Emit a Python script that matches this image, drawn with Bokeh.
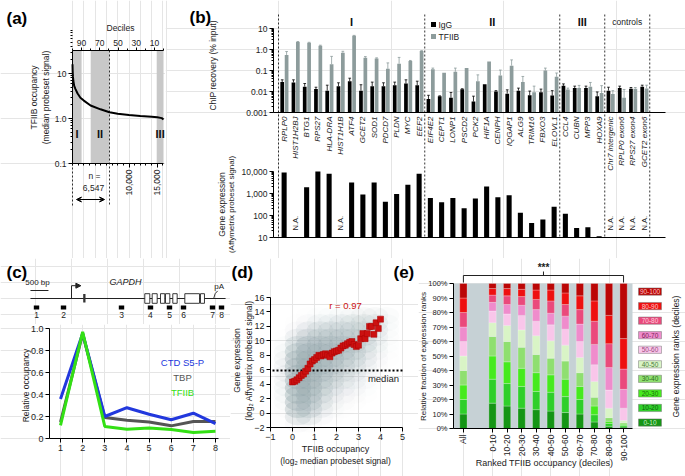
import math
from bokeh.plotting import figure
from bokeh.layouts import row, column
from bokeh.models import (Range1d, LogScale, LogAxis, LinearAxis, FixedTicker,
                          Label, Arrow, VeeHead, NormalHead, NumeralTickFormatter)
from bokeh.core.properties import value
from bokeh.embed import file_html
from bokeh.resources import INLINE

FONT = "Liberation Sans"

# ======================= DATA =======================
# (a) TFIIB occupancy of all genes, ranked
a_rank = [0, 30, 80, 150, 300, 530, 900, 1400, 2000, 3200, 4950, 6547, 8000,
          10000, 12000, 14000, 15000, 15800, 16100]
a_occupancy = [16, 11, 8.5, 6.8, 5.3, 4.5, 3.6, 2.9, 2.5, 1.95, 1.6, 1.38, 1.28,
               1.2, 1.14, 1.1, 1.07, 1.02, 0.95]
a_n_genes = 16100
a_band_left = [0, 3220, 14900]
a_band_right = [1610, 6547, 16100]
a_band_names = ["I", "II", "III"]
a_decile_ticks = [1610, 4830, 8050, 11270, 14490]
a_decile_labels = ["90", "70", "50", "30", "10"]
a_rank_ticks = [10000, 15000]
a_rank_labels = ["10,000", "15,000"]
a_cutoff = 6547

# (b) ChIP recovery and expression per gene
b_genes = ["RPLP0", "HIST1H2BJ", "BTG1", "RPS27", "HLA-DRA", "HIST1H1B", "ATF4",
           "GCET2", "SOD1", "PDCD7", "PLDN", "MYC", "EEF2",
           "EIF4E2", "CEPT1", "LONP1", "PSCD2", "PCK2", "HIF1A", "CENPH", "IQGAP1",
           "ALG9", "TRIM16", "FBXO3", "ELOVL1",
           "CCL4", "CUBN", "MPP3", "HOXA9",
           "Chr7 intergenic", "RPLP0 exon6", "RPS27 exon4", "GCET2 exon6"]
b_group_names = ["I", "II", "III", "controls"]
b_group_sizes = [13, 12, 4, 4]
b_igg = [0.028, 0.027, 0.017, 0.013, 0.011, 0.018, 0.031, 0.011, 0.018, 0.018, 0.020, 0.024, 0.020,
         0.0044, 0.0060, 0.0050, 0.0127, 0.0033, 0.022, 0.0100, 0.0079, 0.0110, 0.0066, 0.0093, 0.0064,
         0.0186, 0.0145, 0.0145, 0.0060,
         0.011, 0.0145, 0.0136, 0.017]
b_igg_err = [0.036, 0.036, 0.024, 0.016, 0.020, 0.026, 0.043, 0.021, 0.028, 0.026, 0.028, 0.036, 0.031,
             0.0066, 0.0062, 0.0090, 0.0135, 0.0060, 0.022, 0.0110, 0.0120, 0.0145, 0.0105, 0.0130, 0.0110,
             0.023, 0.018, 0.018, 0.0095,
             0.016, 0.018, 0.0155, 0.020]
b_tfiib = [0.55, 2.3, 2.1, 1.5, 0.20, 0.70, 4.5, 0.40, 0.37, 0.12, 0.21, 0.28, 0.85,
           0.115, 0.079, 0.087, 0.13, 0.031, 0.27, 0.058, 0.17, 0.028, 0.0091, 0.10, 0.050,
           0.0123, 0.0145, 0.017, 0.0085,
           0.0076, 0.0050, 0.0136, 0.014]
b_tfiib_err = [0.80, 2.4, 2.2, 1.6, 0.47, 0.82, 4.7, 0.46, 0.40, 0.23, 0.42, 0.30, 0.88,
               0.13, 0.08, 0.13, 0.13, 0.062, 0.27, 0.105, 0.32, 0.052, 0.018, 0.13, 0.076,
               0.0145, 0.0195, 0.027, 0.019,
               0.011, 0.0125, 0.0155, 0.020]
b_expression = [9000, None, 1900, 10000, 8000, None, 3200, 900, 3200, 420, 950, 2500, 8000,
                630, 400, 630, 215, 590, 2100, 670, 830, 133, 46, 65, 250,
                120, 27, 29, 11.5,
                None, None, None, None]

# (c) GAPDH locus and relative occupancy
c_gene_span = [-1140, 4280]
c_exon1 = [325, 389]
c_exon_start = [2036, 2241, 2472, 2611, 2814, 3148, 3583]
c_exon_end = [2175, 2380, 2592, 2731, 2935, 3556, 3694]
c_polya = 3950
c_scale_bar = [-1140, -640]
c_primer_names = ["1", "2", "3", "4", "5", "6", "7", "8"]
c_primer_bp = [-972, -222, 1389, 2194, 2722, 3111, 3917, 4167]
c_amplicon = [1, 2, 3, 4, 5, 6, 7, 8]
c_ctd_s5p = [0.36, 0.955, 0.20, 0.28, 0.22, 0.17, 0.23, 0.135]
c_tbp = [0.15, 0.95, 0.19, 0.165, 0.15, 0.115, 0.155, 0.155]
c_tfiib = [0.12, 0.97, 0.11, 0.085, 0.095, 0.082, 0.055, 0.065]

# (d) expression vs occupancy
d_bin_occupancy = [0.0, 0.1, 0.2, 0.3, 0.4, 0.5, 0.6, 0.7, 0.8, 0.9, 1.0, 1.1, 1.2, 1.3,
                   1.4, 1.5, 1.6, 1.7, 1.8, 1.9, 2.0, 2.1, 2.2, 2.3, 2.4, 2.5, 2.6, 2.7,
                   2.8, 2.9, 3.0, 3.1, 3.2, 3.3, 3.4, 3.5, 3.6, 3.7, 3.8, 3.9, 4.0]
d_bin_expression = [4.3, 4.4, 4.6, 4.9, 5.2, 5.4, 5.8, 6.2, 6.8, 7.2, 7.4, 7.7, 8.0, 7.9,
                    8.1, 8.2, 8.0, 7.8, 8.3, 8.5, 8.6, 8.7, 9.0, 9.3, 9.4, 9.6, 9.8, 9.9,
                    9.5, 9.2, 9.4, 10.3, 11.0, 10.3, 11.0, 12.0, 12.0, 10.9, 12.5, 11.7, 13.0]
d_median = 5.9
d_r_text = "r = 0.97"
d_cloud_x_edges = [-0.5, 0.0, 0.5, 1.0, 1.5, 2.0, 2.5, 3.0, 3.5, 4.0, 4.5]
d_cloud_y_edges = [-2, -1, 0, 1, 2, 3, 4, 5, 6, 7, 8, 9, 10, 11, 12, 13, 14]
d_cloud_density = [  # rows from y=-2 upward
    [0.00, 0.10, 0.05, 0.00, 0.00, 0.00, 0.00, 0.00, 0.00, 0.00],
    [0.02, 0.45, 0.30, 0.10, 0.02, 0.00, 0.00, 0.00, 0.00, 0.00],
    [0.05, 0.75, 0.50, 0.22, 0.06, 0.02, 0.00, 0.00, 0.00, 0.00],
    [0.08, 0.85, 0.62, 0.32, 0.12, 0.05, 0.02, 0.00, 0.00, 0.00],
    [0.12, 0.90, 0.72, 0.42, 0.20, 0.10, 0.05, 0.02, 0.00, 0.00],
    [0.15, 0.95, 0.80, 0.52, 0.30, 0.16, 0.10, 0.04, 0.00, 0.00],
    [0.18, 0.95, 0.85, 0.60, 0.40, 0.26, 0.15, 0.07, 0.02, 0.00],
    [0.20, 0.95, 0.90, 0.70, 0.50, 0.36, 0.22, 0.10, 0.03, 0.00],
    [0.20, 0.90, 0.90, 0.76, 0.60, 0.45, 0.30, 0.15, 0.05, 0.00],
    [0.18, 0.85, 0.90, 0.80, 0.70, 0.55, 0.40, 0.22, 0.07, 0.02],
    [0.12, 0.72, 0.85, 0.80, 0.75, 0.65, 0.50, 0.30, 0.12, 0.03],
    [0.06, 0.50, 0.70, 0.70, 0.70, 0.65, 0.55, 0.40, 0.15, 0.04],
    [0.03, 0.28, 0.45, 0.50, 0.55, 0.55, 0.50, 0.40, 0.20, 0.05],
    [0.01, 0.10, 0.25, 0.35, 0.40, 0.40, 0.40, 0.35, 0.25, 0.06],
    [0.00, 0.03, 0.10, 0.15, 0.20, 0.25, 0.30, 0.30, 0.25, 0.08],
    [0.00, 0.00, 0.02, 0.04, 0.06, 0.08, 0.12, 0.18, 0.18, 0.08],
]

# (e) expression-rank composition per occupancy decile (cumulative %)
e_columns = ["All", "0-10", "10-20", "20-30", "30-40", "40-50", "50-60", "60-70",
             "70-80", "80-90", "90-100"]
e_slots = [0, 2, 3, 4, 5, 6, 7, 8, 9, 10, 11]
e_rank_names = ["0-10", "10-20", "20-30", "30-40", "40-50", "50-60", "60-70",
                "70-80", "80-90", "90-100"]
cum_all = [10, 20, 30, 40, 50, 60, 70, 80, 90, 100]
cum_00_10 = [17.5, 34, 50, 63.5, 73, 81, 87, 92, 96.5, 100]
cum_10_20 = [15.5, 31, 46, 60, 71, 79, 85.5, 91.5, 96.5, 100]
cum_20_30 = [14, 29, 41.5, 56, 68, 78, 85, 91, 96, 100]
cum_30_40 = [13, 25.5, 38.5, 51, 64, 74, 82, 89, 95.5, 100]
cum_40_50 = [12, 25, 37, 48.5, 60.5, 71.5, 79.5, 88, 95.5, 100]
cum_50_60 = [11, 22, 34, 46.5, 57.5, 68.5, 77.5, 85.5, 93.5, 100]
cum_60_70 = [10, 20, 29, 38.5, 49, 60, 72, 82, 91.5, 100]
cum_70_80 = [4.5, 9.5, 15.5, 21.5, 32.5, 44, 58, 74, 88, 100]
cum_80_90 = [1.5, 3.5, 5, 7.5, 14, 26.5, 42, 58.5, 78, 100]
cum_90_100 = [1, 2, 3, 4, 5.5, 14, 27, 41, 62, 100]
e_cumulative = [cum_all, cum_00_10, cum_10_20, cum_20_30, cum_30_40, cum_40_50,
                cum_50_60, cum_60_70, cum_70_80, cum_80_90, cum_90_100]
e_colors = ["#159515", "#2fcf2a", "#46ea1e", "#8fdf70", "#d9f4c6",
            "#f9c6ea", "#ef8ccc", "#ea4a7c", "#ee1010", "#bb0606"]
e_label_colors = ["#c8f0c8", "#0d5e0d", "#1b6b10", "#2d6e22", "#4d7a40",
                  "#9a4a80", "#7a1f58", "#ffd0dc", "#ffc8c8", "#ffc0c0"]


# ======================= HELPERS =======================
def span(pa, va, pb, vb, p0, p1, log=False):
    """values at page pixels p0, p1 given two page-pixel anchors (pa->va, pb->vb)"""
    fa, fb = (math.log10(va), math.log10(vb)) if log else (va, vb)
    f = lambda p: fa + (p - pa) * (fb - fa) / (pb - pa)
    r = (f(p0), f(p1))
    return (10 ** r[0], 10 ** r[1]) if log else r


class Geo:
    """maps page pixels (origin top-left of the page) into a figure's data units"""
    def __init__(self, ox, oy, w, h, xr, yr, xlog=False, ylog=False):
        self.ox, self.oy, self.w, self.h = ox, oy, w, h
        self.xr, self.yr, self.xlog, self.ylog = xr, yr, xlog, ylog

    @staticmethod
    def _interp(t, r, log):
        if log:
            a, b = math.log10(r[0]), math.log10(r[1])
            return 10 ** (a + t * (b - a))
        return r[0] + t * (r[1] - r[0])

    def x(self, px):
        return self._interp((px - self.ox) / self.w, self.xr, self.xlog)

    def y(self, py):
        return self._interp((self.oy + self.h - py) / self.h, self.yr, self.ylog)


def base_fig(w, h, xr, yr, ylog=False, **kw):
    p = figure(width=w, height=h, output_backend="svg", toolbar_location=None,
               min_border=0, x_range=Range1d(*xr), y_range=Range1d(*yr),
               x_axis_location=None, y_axis_location=None,
               y_axis_type="log" if ylog else "linear", **kw)
    p.outline_line_color = None
    p.background_fill_color = "white"
    p.border_fill_color = "white"
    return p


def style_axis(ax, size="8.5px"):
    ax.axis_line_color = "black"
    ax.axis_line_width = 1
    ax.major_tick_line_color = "black"
    ax.minor_tick_line_color = "black"
    ax.major_tick_in = 0
    ax.major_tick_out = 4
    ax.minor_tick_in = 0
    ax.minor_tick_out = 2
    ax.major_label_text_font = FONT
    ax.major_label_text_font_size = size
    ax.major_label_text_color = "#222222"
    ax.major_label_standoff = 2
    ax.axis_label = None
    return ax


def lab(p, x, y, text, size="8.5px", color="#222222", angle=0.0, align="center",
        baseline="middle", style="normal", y_range_name="default"):
    p.add_layout(Label(x=x, y=y, text=text, text_font=FONT, text_font_size=size,
                       text_color=color, angle=angle, text_align=align,
                       text_baseline=baseline, text_font_style=style,
                       y_range_name=y_range_name))


PANEL = "17px"
V = math.pi / 2
ROW1 = 258            # height of the upper row
C1_H = 66             # height of the GAPDH diagram

# ======================= (a) =======================
A_OX, A_OY, A_W, A_H = 0, 0, 165, ROW1
a_xr = span(72, 0, 163, a_n_genes, A_OX, A_OX + A_W)
a_yr = span(163, 0.1, 73, 10, A_OY + A_H, A_OY, log=True)
ga = Geo(A_OX, A_OY, A_W, A_H, a_xr, a_yr, ylog=True)
a_top = ga.y(50)
pa = base_fig(A_W, A_H, a_xr, a_yr, ylog=True)
pa.quad(left=a_band_left, right=a_band_right, bottom=0.1, top=a_top,
        fill_color="#c8c8c8", line_color=None)
pa.line(a_rank, a_occupancy, line_color="black", line_width=2)
pa.segment(x0=[a_cutoff, 0], y0=[a_top, 0.1], x1=[a_cutoff, 0], y1=[ga.y(205)] * 2,
           line_dash="2 2", line_width=0.8, line_color="black")
pa.add_layout(Arrow(start=VeeHead(size=5, line_width=1), end=VeeHead(size=5, line_width=1),
                    x_start=ga.x(76), y_start=ga.y(199), x_end=ga.x(104), y_end=ga.y(199),
                    line_width=1, line_color="black"))
ax = style_axis(LinearAxis(fixed_location=0.1, bounds=(0, a_n_genes)))
ax.ticker = FixedTicker(ticks=a_rank_ticks, minor_ticks=list(range(0, a_n_genes, 1000)))
ax.major_label_overrides = dict(zip(a_rank_ticks, a_rank_labels))
ax.major_label_orientation = V
pa.add_layout(ax, "below")
ay = style_axis(LogAxis(fixed_location=0, bounds=(0.1, a_top)))
ay.ticker = FixedTicker(ticks=[0.1, 1, 10],
                        minor_ticks=[k * 10 ** e for e in (-1, 0, 1) for k in range(2, 10)])
ay.major_label_overrides = {0.1: "0.1", 1: "1.0", 10: "10"}
pa.add_layout(ay, "left")
at = style_axis(LinearAxis(fixed_location=a_top, bounds=(0, a_n_genes)))
at.ticker = FixedTicker(ticks=a_decile_ticks,
                        minor_ticks=[i * a_n_genes / 10 for i in range(11)])
at.major_label_overrides = dict(zip(a_decile_ticks, a_decile_labels))
at.major_tick_out = 3
pa.add_layout(at, "above")
for name, l, r in zip(a_band_names, a_band_left, a_band_right):
    lab(pa, (l + r) / 2, ga.y(133), name, size="11px", style="bold", color="#111111")
lab(pa, ga.x(120), ga.y(27), "Deciles", size="8.5px")
lab(pa, ga.x(33), ga.y(97), "TFIIB occupancy", angle=V)
lab(pa, ga.x(45), ga.y(97), "(median probeset signal)", angle=V)
lab(pa, ga.x(94), ga.y(175), "n =")
lab(pa, ga.x(93), ga.y(187), "6,547")
lab(pa, ga.x(6), ga.y(18), "(a)", size=PANEL, style="bold", align="left", color="black")

# ======================= (b) =======================
B_OX, B_OY, B_W, B_H = 165, 0, 520, ROW1
b_xr = span(278, 0, 278 + 11.25, 1, B_OX, B_OX + B_W)
b_yr = span(28, 10, 112, 0.001, B_OY + B_H, B_OY, log=True)
b_er = span(237, 10, 171, 10000, B_OY + B_H, B_OY, log=True)
gb = Geo(B_OX, B_OY, B_W, B_H, b_xr, b_yr, ylog=True)
gbe = Geo(B_OX, B_OY, B_W, B_H, b_xr, b_er, ylog=True)
b_left, b_right = gb.x(273), gb.x(665)
pb = base_fig(B_W, B_H, b_xr, b_yr, ylog=True,
              extra_y_ranges={"expr": Range1d(*b_er)},
              extra_y_scales={"expr": LogScale()})
n = len(b_genes)
centers = [i + 0.5 for i in range(n)]
x_igg = [i + 0.33 for i in range(n)]
x_tf = [i + 0.72 for i in range(n)]
GRAY = "#8d9c9c"
base = 0.001
pb.vbar(x=x_igg, top=b_igg, bottom=base, width=0.33, fill_color="black", line_color=None)
pb.vbar(x=x_tf, top=b_tfiib, bottom=base, width=0.33, fill_color=GRAY, line_color=None)
for xs, vals, errs, col in ((x_igg, b_igg, b_igg_err, "black"), (x_tf, b_tfiib, b_tfiib_err, GRAY)):
    ex, ey0, ey1 = [], [], []
    for xv, v, e in zip(xs, vals, errs):
        if e > v * 1.03:
            ex.append(xv); ey0.append(v); ey1.append(e)
    pb.segment(x0=ex, y0=ey0, x1=ex, y1=ey1, line_color=col, line_width=0.8)
    pb.segment(x0=[v - 0.12 for v in ex], y0=ey1, x1=[v + 0.12 for v in ex], y1=ey1,
               line_color=col, line_width=0.8)
pb.segment(x0=b_left, y0=base, x1=b_right, y1=base, line_color="black", line_width=1)
pb.segment(x0=b_left, y0=10, x1=b_right, y1=10, line_color="black", line_width=1,
           y_range_name="expr")
ex_x = [c for c, v in zip(centers, b_expression) if v is not None]
ex_v = [v for v in b_expression if v is not None]
pb.vbar(x=ex_x, top=ex_v, bottom=10, width=0.45, fill_color="black",
        line_color=None, y_range_name="expr")
na_x = [c for c, v in zip(centers, b_expression) if v is None]
pb.text(x=na_x, y=[gbe.y(230)] * len(na_x), text=["N.A."] * len(na_x), angle=V,
        text_font=value(FONT), text_font_size="7.5px", text_align="left",
        text_baseline="middle", text_color="#222222", y_range_name="expr")
pb.text(x=centers, y=[gb.y(116)] * n, text=b_genes, angle=V,
        text_font=value(FONT), text_font_size="8px", text_font_style="italic",
        text_align="right", text_baseline="middle", text_color="#222222")
bounds = [0]
for s in b_group_sizes:
    bounds.append(bounds[-1] + s)
pb.segment(x0=bounds, y0=gb.y(14), x1=bounds, y1=gb.y(237), line_dash="2 2",
           line_color="black", line_width=0.8)
for gname, lo, hi in zip(b_group_names, bounds[:-1], bounds[1:]):
    if gname == "controls":
        lab(pb, (lo + hi) / 2, gb.y(21), gname, size="8.5px")
    else:
        lab(pb, (lo + hi) / 2, gb.y(21), gname, size="11px", style="bold", color="#111111")
pb.scatter(x=[gb.x(433), gb.x(433)], y=[gb.y(24), gb.y(36)], marker="square", size=5,
           fill_color=["black", GRAY], line_color=None)
lab(pb, gb.x(438), gb.y(24), "IgG", size="8.5px", align="left")
lab(pb, gb.x(438), gb.y(36), "TFIIB", size="8.5px", align="left")
by = style_axis(LogAxis(fixed_location=b_left, bounds=(0.001, 10)))
by.ticker = FixedTicker(ticks=[0.001, 0.01, 0.1, 1, 10],
                        minor_ticks=[k * 10 ** e for e in range(-3, 1) for k in range(2, 10)])
by.major_label_overrides = {0.001: "0.001", 0.01: "0.01", 0.1: "0.1", 1: "1.0", 10: "10"}
pb.add_layout(by, "left")
by2 = style_axis(LogAxis(y_range_name="expr", fixed_location=b_left, bounds=(10, 10000)))
by2.ticker = FixedTicker(ticks=[10, 100, 1000, 10000],
                         minor_ticks=[k * 10 ** e for e in range(1, 4) for k in range(2, 10)])
by2.major_label_overrides = {10: "10", 100: "100", 1000: "1,000", 10000: "10,000"}
pb.add_layout(by2, "left")
lab(pb, gb.x(212), gb.y(65), "ChIP recovery (% input)", angle=V)
lab(pb, gbe.x(221), gbe.y(204), "Gene expression", angle=V, y_range_name="expr")
lab(pb, gbe.x(231), gbe.y(204), "(Affymetrix probeset signal)", angle=V, size="8px",
    y_range_name="expr")
lab(pb, gb.x(189), gb.y(17), "(b)", size=PANEL, style="bold", align="left", color="black")

# ======================= (c) diagram =======================
C1_OX, C1_OY, C1_W = 0, ROW1, 230
c1_xr = span(71, 0, 71 + 36, 1000, C1_OX, C1_OX + C1_W)
c1_yr = span(298, 0, 290, 1, C1_OY + C1_H, C1_OY)
gc1 = Geo(C1_OX, C1_OY, C1_W, C1_H, c1_xr, c1_yr)
pc1 = base_fig(C1_W, C1_H, c1_xr, c1_yr)
pc1.segment(x0=c_gene_span[0], y0=0, x1=c_gene_span[1], y1=0, line_color="#222222", line_width=1)
pc1.quad(left=c_exon_start, right=c_exon_end, bottom=-0.6, top=0.6, fill_color="white",
         line_color="#222222", line_width=0.9)
pc1.quad(left=[c_exon1[0]], right=[c_exon1[1]], bottom=-0.5, top=0.55, fill_color="#333333",
         line_color=None)
pc1.segment(x0=0, y0=0, x1=0, y1=1.6, line_color="#222222", line_width=1)
pc1.add_layout(Arrow(end=NormalHead(size=5, fill_color="#222222", line_color="#222222"),
                     x_start=0, y_start=1.6, x_end=260, y_end=1.6, line_width=1,
                     line_color="#222222"))
pc1.line(x=[c_polya, c_polya + 40, c_polya + 110], y=[0, 0.6, 0.95], line_color="#222222",
         line_width=0.9)
lab(pc1, c_polya + 150, 1.55, "pA", size="8px")
pc1.segment(x0=c_scale_bar[0], y0=1.0, x1=c_scale_bar[1], y1=1.0, line_color="#222222",
            line_width=1)
lab(pc1, gc1.x(37), gc1.y(282), "500 bp", size="8px")
lab(pc1, gc1.x(125), gc1.y(281), "GAPDH", size="9px", style="italic")
pc1.rect(x=c_primer_bp, y=-1.12, width=150, height=0.5, fill_color="black", line_color=None)
pc1.text(x=c_primer_bp, y=[gc1.y(314)] * len(c_primer_bp), text=c_primer_names,
         text_font=value(FONT), text_font_size="8.5px", text_align="center",
         text_baseline="middle", text_color="#222222")
lab(pc1, gc1.x(6), gc1.y(272), "(c)", size=PANEL, style="bold", align="left", color="black")

# ======================= (c) line chart =======================
C2_OX, C2_OY, C2_W, C2_H = 0, ROW1 + C1_H, 230, 476 - ROW1 - C1_H
c2_xr = span(60, 1, 215, 8, C2_OX, C2_OX + C2_W)
c2_yr = span(438, 0, 328, 1, C2_OY + C2_H, C2_OY)
gc2 = Geo(C2_OX, C2_OY, C2_W, C2_H, c2_xr, c2_yr)
pc2 = base_fig(C2_W, C2_H, c2_xr, c2_yr)
pc2.line(c_amplicon, c_tbp, line_color="#555555", line_width=3)
pc2.line(c_amplicon, c_ctd_s5p, line_color="#2238dd", line_width=3)
pc2.line(c_amplicon, c_tfiib, line_color="#33e014", line_width=3)
c2_left = gc2.x(49)
cx = style_axis(LinearAxis(fixed_location=0, bounds=(c2_left, gc2.x(218))), "9px")
cx.ticker = FixedTicker(ticks=c_amplicon)
pc2.add_layout(cx, "below")
cy = style_axis(LinearAxis(fixed_location=c2_left, bounds=(0, 1)), "9px")
cy.ticker = FixedTicker(ticks=[0, 0.2, 0.4, 0.6, 0.8, 1.0])
cy.major_label_overrides = {0: "0", 1: "1.0"}
pc2.add_layout(cy, "left")
lab(pc2, gc2.x(182), gc2.y(362), "CTD S5-P", size="9.5px", color="#2238dd")
lab(pc2, gc2.x(182), gc2.y(377), "TBP", size="9.5px", color="#555555")
lab(pc2, gc2.x(182), gc2.y(392), "TFIIB", size="9.5px", color="#33e014")
lab(pc2, gc2.x(25), gc2.y(385), "Relative occupancy", angle=V, size="8.5px")

# ======================= (d) =======================
D_OX, D_OY, D_W, D_H = 230, ROW1, 188, 476 - ROW1
d_xr = span(270, -1, 402, 5, D_OX, D_OX + D_W)
d_yr = span(427, -2, 297, 16, D_OY + D_H, D_OY)
gd = Geo(D_OX, D_OY, D_W, D_H, d_xr, d_yr)
pdd = base_fig(D_W, D_H, d_xr, d_yr)
cxs, cys, cal = [], [], []
for r, row_vals in enumerate(d_cloud_density):
    for c, dens in enumerate(row_vals):
        if dens > 0:
            cxs.append((d_cloud_x_edges[c] + d_cloud_x_edges[c + 1]) / 2)
            cys.append((d_cloud_y_edges[r] + d_cloud_y_edges[r + 1]) / 2)
            cal.append(dens * 0.38)
pdd.ellipse(x=cxs, y=cys, width=1.2, height=2.4, fill_color="#8fa3a8", fill_alpha=cal,
            line_color=None)
pdd.segment(x0=gd.x(272), y0=d_median, x1=5, y1=d_median, line_dash="2 2",
            line_width=2, line_color="black")
pdd.scatter(d_bin_occupancy, d_bin_expression, marker="square", size=6,
            fill_color="#cc1111", line_color="#aa0000", line_width=0.5)
lab(pdd, gd.x(345), gd.y(305), d_r_text, size="9.5px", color="#cc1111")
lab(pdd, gd.x(383), gd.y(378), "median", size="9.5px")
dx = style_axis(LinearAxis(fixed_location=-2, bounds=(-1, 5)), "9px")
dx.ticker = FixedTicker(ticks=[-1, 0, 1, 2, 3, 4, 5])
pdd.add_layout(dx, "below")
dyx = style_axis(LinearAxis(fixed_location=-1, bounds=(-2, 16)), "9px")
dyx.ticker = FixedTicker(ticks=list(range(-2, 17, 2)))
pdd.add_layout(dyx, "left")
lab(pdd, gd.x(236), gd.y(360), "Gene expression", angle=V)
lab(pdd, gd.x(248), gd.y(360), "(log\u2082 Affymetrix probeset signal)", angle=V)
lab(pdd, gd.x(335), gd.y(448), "TFIIB occupancy", size="9px")
lab(pdd, gd.x(335), gd.y(460), "(log\u2082 median probeset signal)", size="8.5px")
lab(pdd, gd.x(231), gd.y(272), "(d)", size=PANEL, style="bold", align="left", color="black")
lab(pdd, gd.x(393), gd.y(272), "(e)", size=PANEL, style="bold", align="left", color="black")

# ======================= (e) =======================
E_OX, E_OY, E_W, E_H = 418, ROW1, 267, 476 - ROW1
e_xr = span(462.9, 0, 462.9 + 14.56, 1, E_OX, E_OX + E_W)
e_yr = span(428, 0, 283, 1, E_OY + E_H, E_OY)
ge = Geo(E_OX, E_OY, E_W, E_H, e_xr, e_yr)
e_left, e_right = ge.x(453), ge.x(632)
pe = base_fig(E_W, E_H, e_xr, e_yr)
pe.quad(left=[e_left], right=[e_right], bottom=[0], top=[1], fill_color="#c6d1d5",
        line_color=None)
ql, qr, qb, qt, qc = [], [], [], [], []
for slot, cum in zip(e_slots, e_cumulative):
    prev = 0
    for k, top in enumerate(cum):
        ql.append(slot - 0.25); qr.append(slot + 0.25)
        qb.append(prev / 100.0); qt.append(top / 100.0); qc.append(e_colors[k])
        prev = top
pe.quad(left=ql, right=qr, bottom=qb, top=qt, fill_color=qc, line_color="white",
        line_alpha=0.5, line_width=0.5)
leg_y = [ge.y(422 - 14.55 * k) for k in range(10)]
leg_x = (ge.x(638) + ge.x(661)) / 2
pe.rect(x=[leg_x] * 10, y=leg_y, width=ge.x(661) - ge.x(638), height=0.05,
        fill_color=e_colors, line_color="#777777", line_width=0.5)
pe.text(x=[leg_x] * 10, y=leg_y, text=e_rank_names, text_font=value(FONT),
        text_font_size="6.5px", text_align="center", text_baseline="middle",
        text_color=e_label_colors)
mid = (e_slots[0] + e_slots[-1]) / 2
pe.multi_line(xs=[[e_slots[0], e_slots[0], e_slots[-1], e_slots[-1]], [mid, mid]],
              ys=[[ge.y(282), ge.y(275), ge.y(275), ge.y(282)], [ge.y(275), ge.y(271)]],
              line_color="#222222", line_width=1)
lab(pe, mid, ge.y(267), "***", size="10px", style="bold")
ex_ = style_axis(LinearAxis(fixed_location=0, bounds=(e_left, e_right)), "8.5px")
ex_.ticker = FixedTicker(ticks=e_slots)
ex_.major_label_overrides = dict(zip(e_slots, e_columns))
ex_.major_label_orientation = V
pe.add_layout(ex_, "below")
ey_ = style_axis(LinearAxis(fixed_location=e_left, bounds=(0, 1)), "7.5px")
ey_.ticker = FixedTicker(ticks=[i / 10 for i in range(11)])
ey_.formatter = NumeralTickFormatter(format="0%")
pe.add_layout(ey_, "left")
lab(pe, ge.x(423), ge.y(356), "Relative fraction of expression ranks", angle=V, size="8px")
lab(pe, ge.x(544), ge.y(462), "Ranked TFIIB occupancy (deciles)", size="9px")
lab(pe, ge.x(675), ge.y(356), "Gene expression ranks (deciles)", angle=V, size="8.5px")

# ======================= LAYOUT =======================
layout = column(row(pa, pb), row(column(pc1, pc2), pdd, pe))
open("out.html", "w").write(file_html(layout, INLINE))
